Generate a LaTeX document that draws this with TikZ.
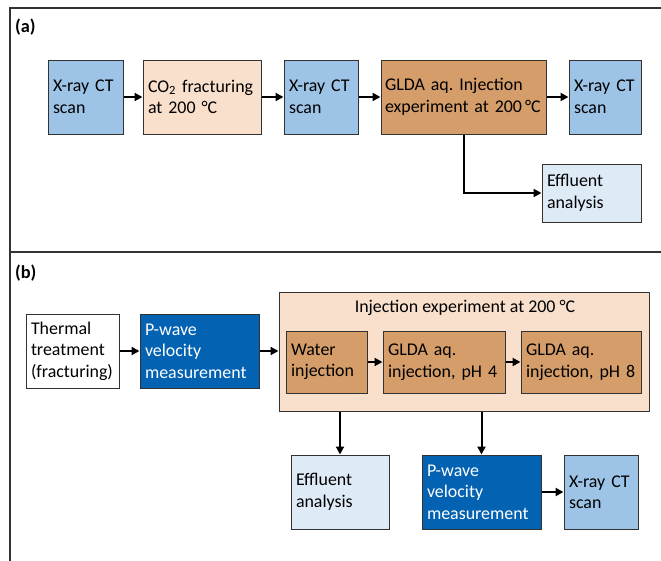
\documentclass[tikz,border=0pt]{standalone}
\usepackage{fontspec}
\setmainfont{Carlito}
\usetikzlibrary{arrows.meta}
\definecolor{cblue}{RGB}{157,195,230}
\definecolor{cpeach}{RGB}{248,224,205}
\definecolor{cbrown}{RGB}{213,157,106}
\definecolor{clight}{RGB}{222,234,246}
\definecolor{cdark}{RGB}{4,98,178}
\definecolor{cedge}{RGB}{50,50,50}
\tikzset{
  box/.style={draw=cedge, line width=1pt, inner xsep=5pt, inner ysep=0pt, align=left,
    font=\fontsize{17.9}{21.5}\selectfont\frenchspacing},
  bluebox/.style={box, fill=cblue},
  peachbox/.style={box, fill=cpeach},
  brownbox/.style={box, fill=cbrown},
  lightbox/.style={box, fill=clight},
  darkbox/.style={box, fill=cdark, text=white},
  whitebox/.style={box, fill=white},
  arr/.style={line width=2pt, -{Triangle[length=8pt,width=8pt]}},
  frame/.style={line width=1.6pt, draw=black!80},
  panel/.style={font=\fontsize{18.3}{21.5}\selectfont\bfseries, anchor=west, inner sep=0pt}
}
\begin{document}
\begin{tikzpicture}[x=1pt,y=-1pt]
\useasboundingbox (0,0) rectangle (661,560);
% frame
\coordinate (ftl) at (10,8);
\coordinate (ftr) at (663,8);
\coordinate (fbl) at (10,562);
\coordinate (fml) at (10,252);
\coordinate (fmr) at (663,252);
\draw[frame] (ftr) -- (ftl) -- (fbl);
\draw[frame] (fml) -- (fmr);
\node[panel] (pa) at (15,27) {(a)};
\node[panel] (pb) at (15,273) {(b)};
% row (a)
\node[bluebox, minimum width=75pt, minimum height=74pt, text width=65pt] (a1) at (85.5,97) {\mbox{X-ray CT}\\scan};
\node[peachbox, minimum width=118pt, minimum height=74pt, text width=108pt] (a2) at (202,97) {\mbox{CO\textsubscript{2} fracturing}\\at 200 °C};
\node[bluebox, minimum width=74pt, minimum height=74pt, text width=64pt] (a3) at (321,97) {\mbox{X-ray CT}\\scan};
\node[brownbox, inner xsep=4pt, minimum width=165pt, minimum height=74pt, text width=157pt] (a4) at (463.5,97) {\mbox{GLDA aq. Injection}\\\mbox{experiment at 200\,°C}};
\node[bluebox, minimum width=72pt, minimum height=74pt, text width=62pt] (a5) at (605,97) {\mbox{X-ray CT}\\scan};
\node[lightbox, minimum width=99pt, minimum height=58pt, text width=89pt] (a6) at (591.5,193) {Effluent\\analysis};
\draw[arr] (a1) -- (a2);
\draw[arr] (a2) -- (a3);
\draw[arr] (a3) -- (a4);
\draw[arr] (a4) -- (a5);
\draw[arr] (a4.south) |- (a6.west);
% row (b)
\node[whitebox, minimum width=93pt, minimum height=74pt, text width=83pt] (b1) at (72.5,351) {Thermal\\treatment\\\mbox{(fracturing)}};
\node[darkbox, minimum width=119pt, minimum height=74pt, text width=109pt] (b2) at (199.5,351) {P-wave\\velocity\\\mbox{measurement}};
\node[peachbox, minimum width=370pt, minimum height=119pt, text width=360pt] (cont) at (464,351.5) {};
\node[font=\fontsize{17.9}{21.5}\selectfont, inner sep=0pt] (ctitle) at (465,308) {Injection experiment at 200 °C};
\node[brownbox, minimum width=81pt, minimum height=62pt, text width=71pt] (w1) at (326.5,362) {Water\\injection};
\node[brownbox, minimum width=122pt, minimum height=62pt, text width=112pt] (w2) at (444,362) {GLDA aq.\\\mbox{injection, pH 4}};
\node[brownbox, minimum width=120pt, minimum height=62pt, text width=110pt] (w3) at (581,362) {GLDA aq.\\\mbox{injection, pH 8}};
\node[lightbox, minimum width=98pt, minimum height=74pt, text width=88pt] (b3) at (340,492) {Effluent\\analysis};
\node[darkbox, minimum width=119pt, minimum height=74pt, text width=109pt] (b4) at (481.5,492) {P-wave\\velocity\\\mbox{measurement}};
\node[bluebox, minimum width=74pt, minimum height=74pt, text width=64pt] (b5) at (601,492) {\mbox{X-ray CT}\\scan};
\draw[arr] (b1) -- (b2);
\draw[arr] (b2.east) -- (b2.east -| cont.west);
\draw[arr] (w1) -- (w2);
\draw[arr] (w2) -- (w3);
\draw[arr] (b3.north |- cont.south) -- (b3.north);
\draw[arr] (b4.north |- cont.south) -- (b4.north);
\draw[arr] (b4) -- (b5);
\end{tikzpicture}
\end{document}
